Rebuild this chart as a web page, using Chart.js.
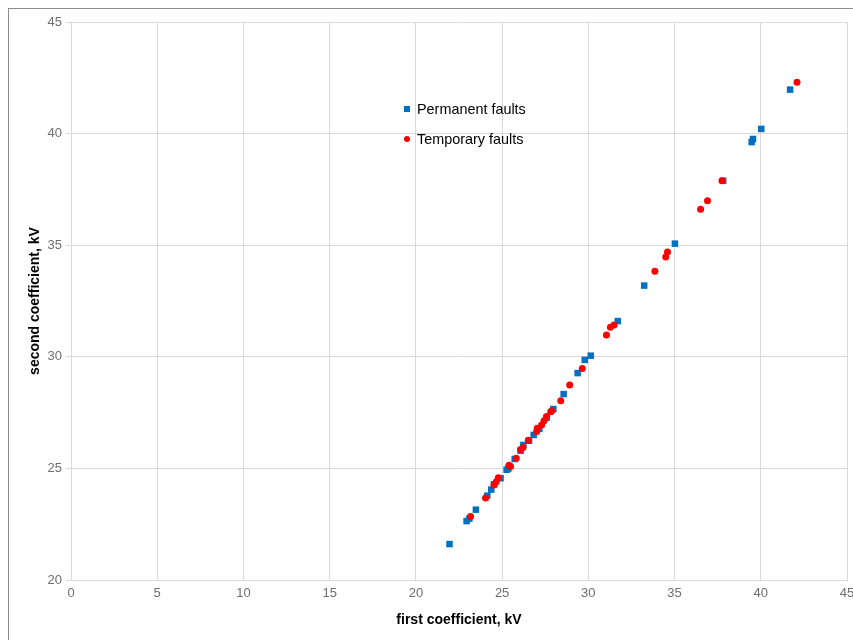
<!DOCTYPE html>
<html>
<head>
<meta charset="utf-8">
<script src="https://cdn.jsdelivr.net/npm/chart.js@4/dist/chart.umd.min.js"></script>
<style>
  html, body { margin: 0; padding: 0; background: #fff; }
  #wrap { width: 853px; height: 640px; position: relative; }
</style>
</head>
<body>
<div id="wrap"><canvas id="faultChart" width="853" height="640"></canvas></div>
<script>
/* ---- Data ---- */
const permX = [21.95, 22.94, 23.10, 23.48, 24.14, 24.37, 24.53, 24.91, 25.26, 25.36, 25.73, 26.07, 26.23,
  26.56, 26.83, 27.16, 27.58, 27.97, 28.57, 29.38, 29.79, 30.14, 31.71, 33.24, 35.02, 37.82, 39.47, 39.55,
  40.03, 41.70];
const permY = [21.61, 22.64, 22.75, 23.15, 23.78, 24.05, 24.29, 24.56, 24.94, 24.99, 25.42, 25.79, 26.05,
  26.24, 26.50, 26.77, 27.27, 27.66, 28.33, 29.27, 29.86, 30.05, 31.60, 33.19, 35.07, 37.89, 39.62, 39.76,
  40.21, 41.97];

const tempX = [23.17, 24.04, 24.53, 24.66, 24.78, 25.40, 25.49, 25.82, 26.07, 26.21, 26.52, 27.00, 27.04,
  27.29, 27.43, 27.58, 27.82, 27.87, 28.40, 28.92, 29.65, 31.05, 31.28, 31.49, 33.86, 34.49, 34.59, 36.51,
  36.91, 37.75, 42.10];
const tempY = [22.85, 23.67, 24.26, 24.40, 24.58, 25.14, 25.08, 25.45, 25.85, 25.94, 26.26, 26.65, 26.80,
  26.94, 27.14, 27.32, 27.54, 27.57, 28.03, 28.74, 29.48, 30.98, 31.32, 31.42, 33.83, 34.47, 34.70, 36.61,
  36.99, 37.89, 42.30];

const seriesNames = ['Permanent faults', 'Temporary faults'];
const xTitle = 'first coefficient, kV';
const yTitle = 'second coefficient, kV';

const toPoints = (xs, ys) => xs.map((x, i) => ({ x, y: ys[i] }));

const FONT = "'Liberation Sans', sans-serif";
const GRID = '#d9d9d9';
const TICK = '#6e6e6e';

/* ---- Outer frame ---- */
const framePlugin = {
  id: 'frame',
  beforeDraw(chart) {
    const ctx = chart.ctx;
    ctx.save();
    ctx.strokeStyle = '#8c8c8c';
    ctx.lineWidth = 1;
    ctx.strokeRect(8.5, 8.5, 900, 700);
    ctx.restore();
  }
};

/* ---- Legend inside the plot ---- */
const legendPlugin = {
  id: 'innerLegend',
  afterDraw(chart) {
    const ctx = chart.ctx;
    ctx.save();
    ctx.font = "14.4px 'Liberation Sans', sans-serif";
    ctx.textBaseline = 'middle';
    chart.data.datasets.forEach((ds, i) => {
      const cy = 109 + i * 30;
      ctx.fillStyle = ds.backgroundColor;
      if (ds.pointStyle === 'rect') {
        ctx.fillRect(404, cy - 3, 6, 6);
      } else {
        ctx.beginPath();
        ctx.arc(407, cy, 3, 0, Math.PI * 2);
        ctx.fill();
      }
      ctx.fillStyle = '#000';
      ctx.fillText(ds.label, 417, cy + 1);
    });
    ctx.restore();
  }
};

new Chart(document.getElementById('faultChart'), {
  type: 'scatter',
  data: {
    datasets: [{
      label: seriesNames[0],
      data: toPoints(permX, permY),
      pointStyle: 'rect',
      pointRadius: 4.6,
      backgroundColor: '#0070c0',
      borderWidth: 0,
      order: 1
    }, {
      label: seriesNames[1],
      data: toPoints(tempX, tempY),
      pointStyle: 'circle',
      pointRadius: 3.5,
      backgroundColor: '#ff0000',
      borderWidth: 0,
      order: 0
    }]
  },
  options: {
    responsive: false,
    animation: false,
    layout: { padding: { left: 0, right: 6, top: 22, bottom: 0 } },
    plugins: { legend: { display: false }, tooltip: { enabled: false } },
    scales: {
      x: {
        type: 'linear',
        min: 0, max: 45,
        ticks: { stepSize: 5, color: TICK, padding: 6, font: { family: FONT, size: 13 } },
        grid: { color: GRID, tickLength: 0 },
        border: { color: GRID },
        title: { display: true, text: xTitle, color: '#000', padding: { top: 4, bottom: 11 },
          font: { family: FONT, size: 14, weight: 'bold' } },
        afterFit: s => {
          s.height = 60;
          // keep the last tick label from pushing the plot edge inwards
          s.paddingLeft = 0;
          s.paddingRight = 0;
        }
      },
      y: {
        type: 'linear',
        min: 20, max: 45,
        ticks: { stepSize: 5, color: TICK, padding: 4, font: { family: FONT, size: 13 } },
        grid: { color: GRID, tickLength: 5 },
        border: { color: GRID },
        title: { display: true, text: yTitle, color: '#000', padding: { top: 27, bottom: 0 },
          font: { family: FONT, size: 14, weight: 'bold' } },
        afterFit: s => {
          s.width = 71;
          s.paddingTop = 0;
          s.paddingBottom = 0;
        }
      }
    }
  },
  plugins: [framePlugin, legendPlugin]
});
</script>
</body>
</html>
